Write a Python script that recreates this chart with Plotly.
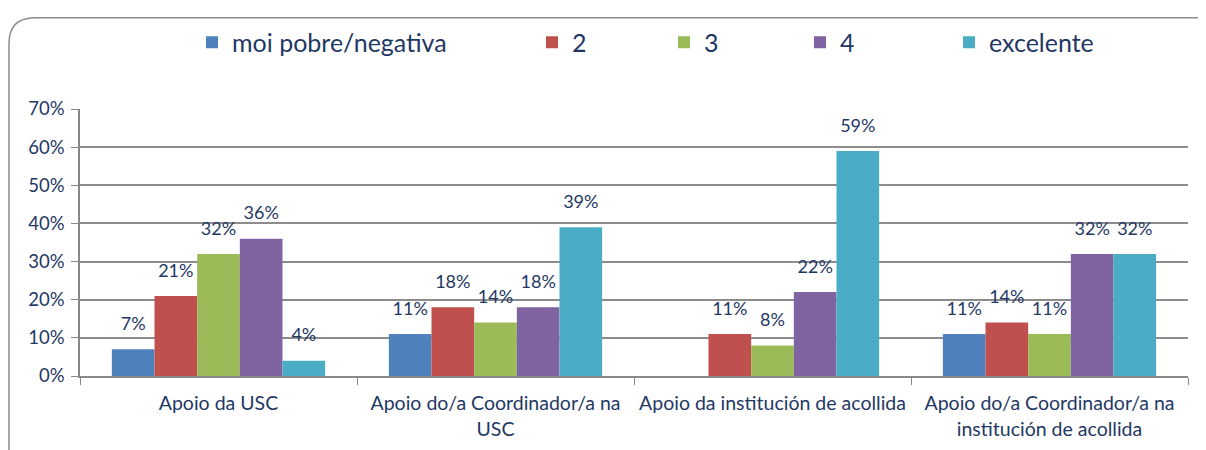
import plotly.graph_objects as go

categories = [
    "Apoio da USC",
    "Apoio do/a Coordinador/a na<br>USC",
    "Apoio da institución de acollida",
    "Apoio do/a Coordinador/a na<br>institución de acollida",
]
series_names = ["moi pobre/negativa", "2", "3", "4", "excelente"]
moi_pobre = [7, 11, 0, 11]
val_2 = [21, 18, 11, 14]
val_3 = [32, 14, 8, 11]
val_4 = [36, 18, 22, 32]
excelente = [4, 39, 59, 32]
y_ticks = [0, 10, 20, 30, 40, 50, 60, 70]
y_tick_text = [f"{v}%" for v in y_ticks]

colors = ["#4F81BD", "#C0504D", "#9BBB59", "#8064A2", "#4BACC6"]
navy = "#1F3864"
font_family = "Lato, 'Open Sans', sans-serif"

# page body has an 8px margin, so work in screen pixels minus 8
OFF = 8
W, H = 1206 - OFF, 450 - OFF
L, R, T, B = 80 - OFF, 1188 - OFF, 107 - OFF, 376 - OFF
pw, ph = R - L, B - T


def px(x):
    return (x - OFF - L) / pw


def py(y):
    return (B - (y - OFF)) / ph


all_series = [moi_pobre, val_2, val_3, val_4, excelente]
legend_x = [192, 532, 664, 800, 949]

fig = go.Figure()
for i, (name, vals) in enumerate(zip(series_names, all_series)):
    fig.add_trace(go.Bar(
        x=categories,
        y=vals,
        name=name,
        marker=dict(color=colors[i], line=dict(width=0)),
        legend="legend" if i == 0 else f"legend{i + 1}",
    ))
# value labels: invisible markers push the text up off the bar tops
for i, vals in enumerate(all_series):
    fig.add_trace(go.Scatter(
        x=categories,
        y=vals,
        mode="markers+text",
        marker=dict(size=22, opacity=0),
        text=[f"{v}%" if v else "" for v in vals],
        textposition="top center",
        textfont=dict(size=18, color=navy, family=font_family),
        cliponaxis=False,
        showlegend=False,
        hoverinfo="skip",
    ))

legends = {}
for i, lx in enumerate(legend_x):
    key = "legend" if i == 0 else f"legend{i + 1}"
    legends[key] = dict(
        x=px(lx), y=py(40), xanchor="left", yanchor="middle",
        orientation="h", bgcolor="rgba(0,0,0,0)",
        font=dict(size=25, color=navy, family=font_family),
        itemclick=False, itemdoubleclick=False,
    )

# rounded outer border
r = 26
x0, y0, x1, y1 = 9, 15, 1225, 470
path = (
    f"M {px(x0)} {py(y1)} L {px(x0)} {py(y0 + r)} "
    f"Q {px(x0)} {py(y0)} {px(x0 + r)} {py(y0)} "
    f"L {px(x1 - r)} {py(y0)} Q {px(x1)} {py(y0)} {px(x1)} {py(y0 + r)} "
    f"L {px(x1)} {py(y1)}"
)

fig.update_layout(
    width=W, height=H,
    margin=dict(l=L, r=W - R, t=T, b=H - B),
    paper_bgcolor="white", plot_bgcolor="white",
    barmode="group", bargap=0.23, bargroupgap=0,
    scattermode="group", scattergap=0.23,
    font=dict(family=font_family, color=navy, size=18),
    showlegend=True,
    shapes=[dict(type="path", path=path, xref="paper", yref="paper",
                 line=dict(color="#8C8C8C", width=1.5), layer="below")],
    **legends,
)
fig.update_xaxes(
    type="category",
    showline=True, linecolor="#888888", linewidth=1.5,
    ticks="outside", tickson="boundaries", ticklen=7, tickcolor="#888888",
    tickfont=dict(size=19.5, color=navy, family=font_family),
    ticklabelstandoff=9,
    showgrid=False, automargin=False,
)
fig.update_yaxes(
    range=[0, 70], tickmode="array", tickvals=y_ticks, ticktext=y_tick_text,
    showline=True, linecolor="#888888", linewidth=1.5,
    ticks="outside", ticklen=7, tickcolor="#888888",
    ticklabelstandoff=3,
    showgrid=True, gridcolor="#8C8C8C", gridwidth=1.5,
    tickfont=dict(size=18.5, color=navy, family=font_family),
    zeroline=False, automargin=False,
)

fig.write_html("out.html")
